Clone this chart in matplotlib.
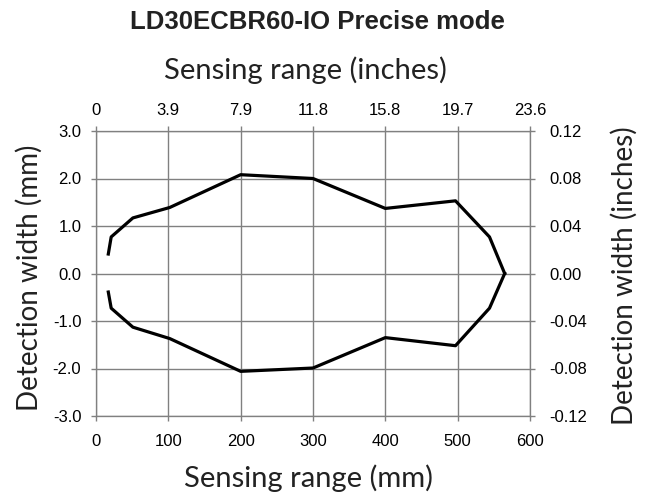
import matplotlib.pyplot as plt

# sensing range (mm) and detection width (mm)
range_upper = [17, 21, 51, 102, 200, 300, 400, 497, 544, 565]
width_upper = [0.41, 0.77, 1.17, 1.39, 2.08, 2.0, 1.37, 1.53, 0.77, 0.0]
range_lower = [565, 544, 497, 400, 300, 200, 102, 51, 21, 17]
width_lower = [0.0, -0.73, -1.52, -1.35, -1.99, -2.06, -1.37, -1.13, -0.73, -0.39]

mm_ticks = [0, 100, 200, 300, 400, 500, 600]
inch_labels = ["0", "3.9", "7.9", "11.8", "15.8", "19.7", "23.6"]
width_ticks = [-3, -2, -1, 0, 1, 2, 3]
width_labels = ["-3.0", "-2.0", "-1.0", "0.0", "1.0", "2.0", "3.0"]
inch_width_labels = ["-0.12", "-0.08", "-0.04", "0.00", "0.04", "0.08", "0.12"]

tick_font = "Liberation Sans"
label_font = "Lato"
grey = "#808080"
W, H = 654, 499

fig = plt.figure(figsize=(W / 100, H / 100), dpi=100)
ax = fig.add_axes([96 / W, 1 - 416 / H, 434 / W, 285 / H])

ax.plot(range_upper, width_upper, color="black", lw=2.3, solid_joinstyle="round")
ax.plot(range_lower, width_lower, color="black", lw=2.3, solid_joinstyle="round")

ax.set_xlim(0, 600)
ax.set_ylim(-3, 3)
ax.set_xticks(mm_ticks)
ax.set_xticklabels([str(t) for t in mm_ticks], fontfamily=tick_font, fontsize=12)
ax.set_yticks(width_ticks)
ax.set_yticklabels(width_labels, fontfamily=tick_font, fontsize=12)
ax.grid(True, color=grey, lw=1)
ax.tick_params(axis="x", length=3.6, color=grey, width=1, pad=9)
ax.tick_params(axis="y", length=3.6, color=grey, width=1, pad=7)
for s in ax.spines.values():
    s.set_color(grey)

# top axis in inches
axt = ax.twiny()
axt.set_xlim(ax.get_xlim())
axt.set_xticks(mm_ticks)
axt.set_xticklabels(inch_labels, fontfamily=tick_font, fontsize=12)
axt.tick_params(length=3.6, color=grey, width=1, pad=6)

# right axis in inches
axr = ax.twinx()
axr.set_ylim(ax.get_ylim())
axr.set_yticks(width_ticks)
axr.set_yticklabels(inch_width_labels, fontfamily=tick_font, fontsize=12)
axr.tick_params(length=3.6, color=grey, width=1, pad=10)
for a in (axt, axr):
    for s in a.spines.values():
        s.set_color(grey)

lab = dict(fontfamily=label_font, color="#222222", ha="center", va="center")
fig.text(305 / W, 1 - 70 / H, "Sensing range (inches)", fontsize=21, **lab)
fig.text(308 / W, 1 - 478 / H, "Sensing range (mm)", fontsize=21, **lab)
fig.text(29 / W, 1 - 278 / H, "Detection width (mm)", rotation=90, fontsize=20, **lab)
fig.text(624 / W, 1 - 276 / H, "Detection width (inches)", rotation=90, fontsize=20, **lab)

fig.text(317 / W, 1 - 22 / H, "LD30ECBR60-IO Precise mode", fontfamily=tick_font,
         fontweight="bold", fontsize=18.5, ha="center", va="center", color="#222222")

fig.savefig("out.png", dpi=100)
